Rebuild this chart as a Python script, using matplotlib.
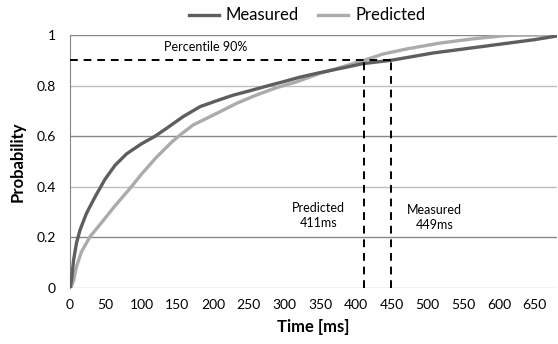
import matplotlib
matplotlib.use("Agg")
import matplotlib.pyplot as plt
import numpy as np

plt.rcParams['font.family'] = ['Lato', 'DejaVu Sans']

meas_t = [0, 2, 5, 9, 14, 23, 35, 49, 63, 79, 100, 119, 135, 158, 182, 205, 228,
          252, 275, 298, 321, 349, 380, 410, 449, 508, 578, 648, 681]
meas_p = [0, 0.03, 0.11, 0.177, 0.229, 0.295, 0.36, 0.43, 0.485, 0.53, 0.57, 0.6, 0.631, 0.677, 0.717, 0.74, 0.762,
          0.78, 0.798, 0.815, 0.833, 0.851, 0.869, 0.887, 0.90, 0.929, 0.955, 0.981, 0.996]

pred_t = [0, 2, 5, 9, 16, 28, 44, 63, 84, 100, 121, 142, 154, 172, 205, 233, 261, 289, 317, 349,
          368, 411, 438, 471, 517, 564, 610, 640, 681]
pred_p = [0, 0.005, 0.03, 0.084, 0.143, 0.203, 0.258, 0.325, 0.394, 0.45, 0.517, 0.576, 0.605, 0.644, 0.69, 0.73, 0.763, 0.792, 0.815, 0.848,
          0.863, 0.90, 0.925, 0.945, 0.968, 0.985, 0.998, 1.0, 1.0]

x_ticks = list(range(0, 700, 50))
y_ticks = [0, 0.2, 0.4, 0.6, 0.8, 1.0]
y_labels = ['0', '0.2', '0.4', '0.6', '0.8', '1']

p90 = 0.9
pred_90 = 411
meas_90 = 449

fig = plt.figure(figsize=(5.58, 3.44), dpi=100)
ax = fig.add_axes([70/558, 1-288/344, (557-70)/558, (288-35)/344])

grid_cols = ['#BFBFBF', '#868686', '#BFBFBF', '#868686', '#BFBFBF', '#868686']
for yv, c in zip(y_ticks, grid_cols):
    ax.axhline(yv, color=c, lw=1.0, zorder=1)

ax.plot(pred_t, pred_p, color='#ABABAB', lw=2.4, label='Predicted', zorder=3,
        solid_joinstyle='round')
ax.plot(meas_t, meas_p, color='#5E5E5E', lw=2.4, label='Measured', zorder=4,
        solid_joinstyle='round')

ax.plot([0, meas_90], [p90, p90], color='black', lw=1.4, ls=(0, (4, 3)), zorder=5)
ax.plot([pred_90, pred_90], [0, p90], color='black', lw=1.4, ls=(0, (4, 3)), zorder=5)
ax.plot([meas_90, meas_90], [0, p90], color='black', lw=1.4, ls=(0, (4, 3)), zorder=5)

ax.text(190, 0.952, 'Percentile 90%', ha='center', va='center', fontsize=9)
ax.text(347, 0.288, 'Predicted\n411ms', ha='center', va='center', fontsize=9, linespacing=1.3)
ax.text(510, 0.277, 'Measured\n449ms', ha='center', va='center', fontsize=9, linespacing=1.3)

ax.set_xlim(0, 681)
ax.set_ylim(0, 1)
ax.set_xticks(x_ticks)
ax.set_yticks(y_ticks)
ax.set_yticklabels(y_labels)
ax.tick_params(length=0, labelsize=10, pad=8)
ax.tick_params(axis='y', pad=10)
for s in ['top', 'right', 'bottom']:
    ax.spines[s].set_visible(False)
ax.spines['left'].set_color('#868686')
ax.spines['left'].set_zorder(2)

ax.set_xlabel('Time [ms]', fontsize=12, fontweight='bold', labelpad=6)
ax.set_ylabel('Probability', fontsize=12, fontweight='bold', labelpad=8)

h, l = ax.get_legend_handles_labels()
fig.legend([h[1], h[0]], [l[1], l[0]], loc='center', bbox_to_anchor=(0.55, 0.955), ncol=2,
           frameon=False, fontsize=12, handlelength=1.8, handletextpad=0.4, columnspacing=1.2)

fig.savefig('out.png', dpi=100)
